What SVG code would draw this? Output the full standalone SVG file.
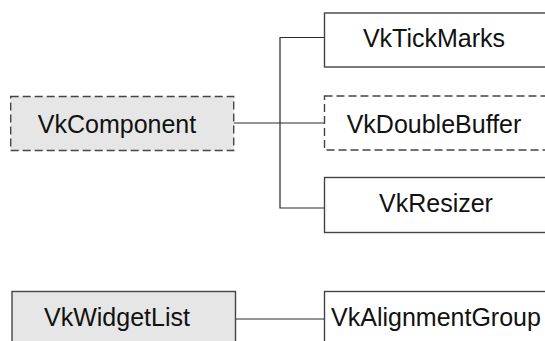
<svg xmlns="http://www.w3.org/2000/svg" width="545" height="341" viewBox="0 0 545 341">
<style>
.box{fill:#ffffff;stroke:#444444;stroke-width:1.4}
.base{fill:#e6e6e6}
.dash{stroke-dasharray:8 4}
.lbl{font-family:"Liberation Sans",Arial,sans-serif;font-size:25px;fill:#111111;text-anchor:middle}
.conn{fill:none;stroke:#2a2a2a;stroke-width:1.2}
</style>
<rect width="545" height="341" fill="#ffffff"/>
<g id="connectors">
<path class="conn" d="M233.7 123 H324.5"/>
<path class="conn" d="M324.5 37.5 H280 V208 H324.5"/>
<path class="conn" d="M235.7 319 H324.5"/>
</g>
<g id="VkComponent">
<rect class="box base dash" x="10.7" y="96.5" width="223" height="54"/>
<text class="lbl" x="117" y="133">VkComponent</text>
</g>
<g id="VkTickMarks">
<rect class="box" x="324.5" y="13" width="230" height="54"/>
<text class="lbl" x="434" y="47">VkTickMarks</text>
</g>
<g id="VkDoubleBuffer">
<rect class="box dash" x="324.5" y="96" width="230" height="54"/>
<text class="lbl" x="434" y="132.5">VkDoubleBuffer</text>
</g>
<g id="VkResizer">
<rect class="box" x="324.5" y="177.5" width="230" height="55"/>
<text class="lbl" x="436" y="212">VkResizer</text>
</g>
<g id="VkWidgetList">
<rect class="box base" x="12" y="291.5" width="223.5" height="60"/>
<text class="lbl" x="117" y="326">VkWidgetList</text>
</g>
<g id="VkAlignmentGroup">
<rect class="box" x="324.5" y="291.5" width="230" height="60"/>
<text class="lbl" x="436" y="326">VkAlignmentGroup</text>
</g>
</svg>
